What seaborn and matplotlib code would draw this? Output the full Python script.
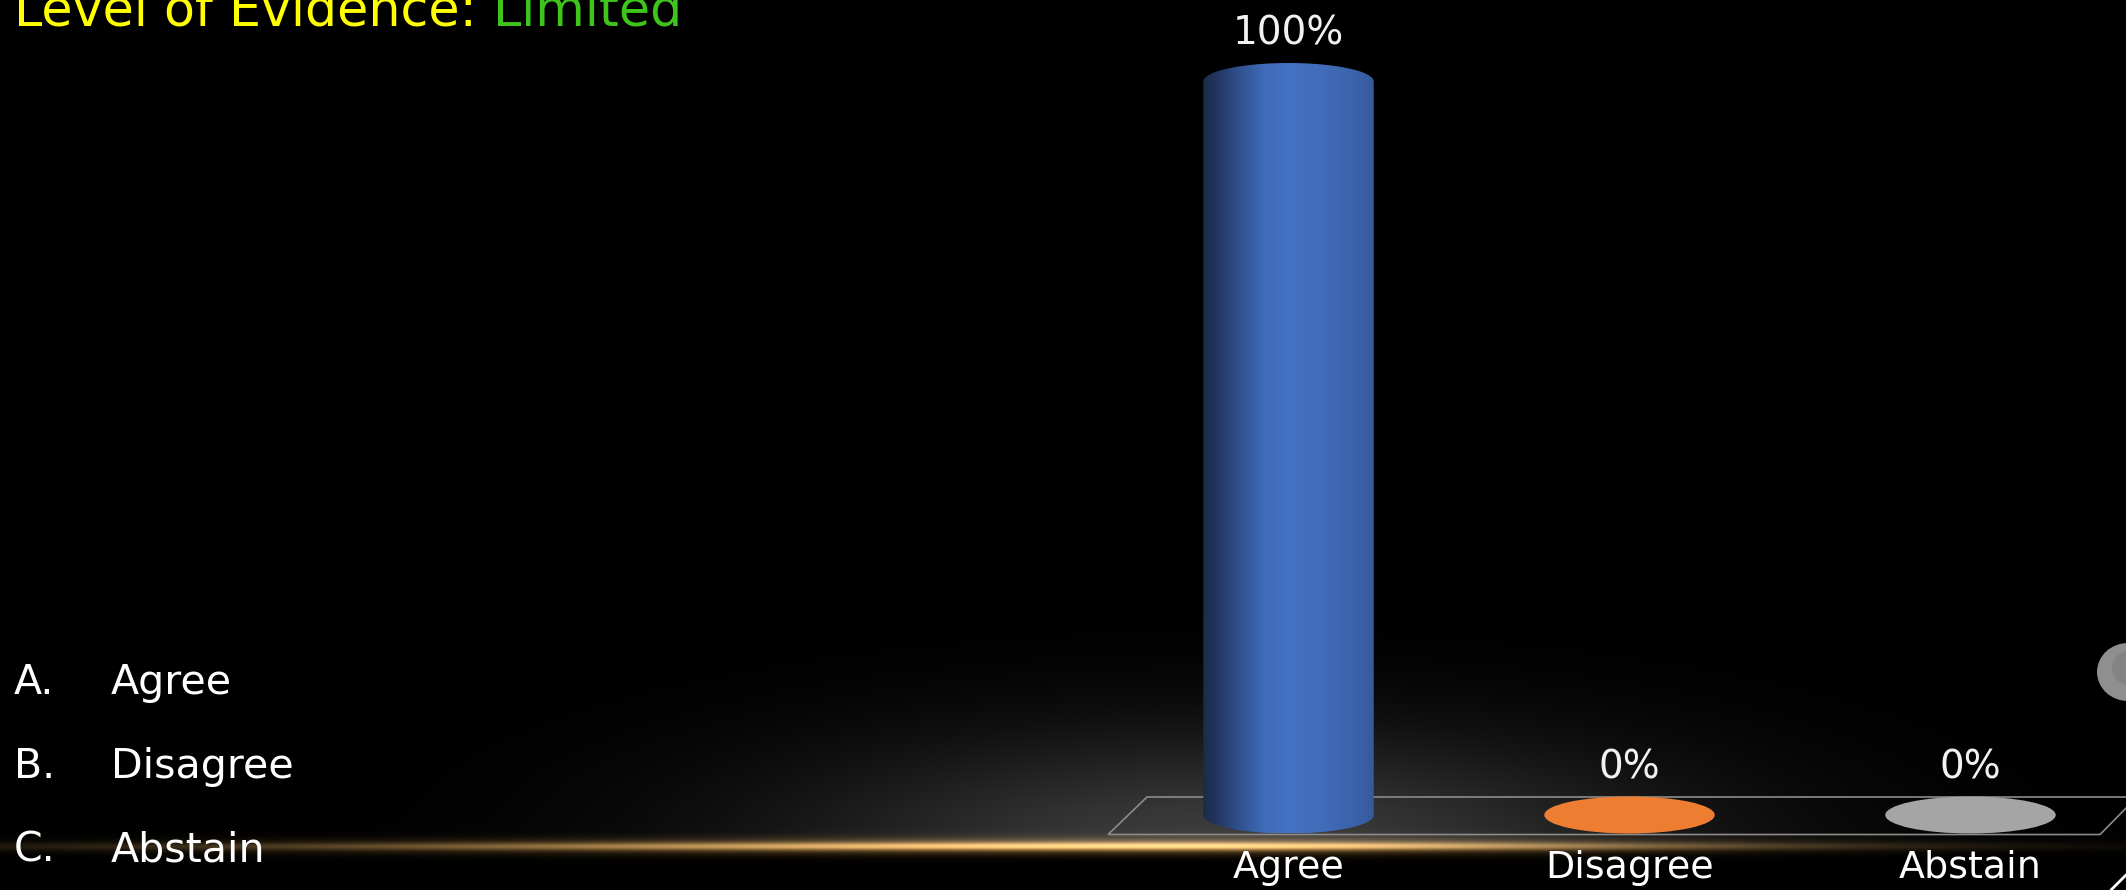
import numpy as np
import pandas as pd
import matplotlib
matplotlib.use("Agg")
import matplotlib.pyplot as plt
import seaborn as sns
from matplotlib.patches import Ellipse, Polygon, Rectangle
from matplotlib.colors import LinearSegmentedColormap

# ---------------- data ----------------
categories = ["Agree", "Disagree", "Abstain"]
values = [100, 0, 0]
value_labels = ["100%", "0%", "0%"]
bar_colors = ["#4472c4", "#ed7d31", "#a5a5a5"]
option_letters = ["A.", "B.", "C."]
option_texts = ["Agree", "Disagree", "Abstain"]
title_prefix = "Level of Evidence: "
title_level = "Limited"

# ---------------- layout ----------------
W, H, DPI = 2126, 890, 100
sns.set_theme(style="white")
plt.rcParams["font.family"] = ["DejaVu Sans"]

fig = plt.figure(figsize=(W / DPI, H / DPI), dpi=DPI, facecolor="black")

# ---- background decoration (glow + golden line), pixel coords, y down ----
bg = fig.add_axes([0, 0, 1, 1], zorder=0)
bg.set_xlim(0, W)
bg.set_ylim(H, 0)
bg.axis("off")
yy, xx = np.mgrid[0:H, 0:W]
yy = yy.astype(float)
xx = xx.astype(float)
LINE_Y = 846.0
glow = 0.24 * np.exp(-((xx - 1230) / 450.0) ** 2 - ((yy - LINE_Y) / 115.0) ** 2)
cut = LINE_Y - 4
glow = np.where(yy > cut, glow * np.exp(-((yy - cut) / 5.0) ** 2), glow)
sx = np.where(xx < 1150, 800.0, 560.0)
gx = np.exp(-((xx - 1150) / sx) ** 2)
core = gx * np.exp(-((yy - LINE_Y) / 3.6) ** 2)
halo = gx * np.exp(-((yy - LINE_Y) / 8.0) ** 2)
img = (glow[..., None] * np.array([1.0, 1.0, 1.0])
       + core[..., None] * np.array([0.58, 0.47, 0.30])
       + halo[..., None] * np.array([0.42, 0.30, 0.13]))
img = np.clip(img, 0, 1)
bg.imshow(img, extent=[0, W, H, 0], aspect="auto", interpolation="bilinear")
# small moon-like decoration at right edge and corner mark
bg.add_patch(Ellipse((2128, 672), 62, 58, facecolor="#b4b4b4", edgecolor="none", alpha=0.8))
bg.add_patch(Ellipse((2132, 668), 40, 36, facecolor="#7a7a7a", edgecolor="none", alpha=0.5))
bg.plot([2111, 2126], [890, 875], color="white", lw=2)

# ---- chart axes ----
X0_PX = 1100.0
CX0 = 1288.5      # pixel centre of first category
STEP = 341.0      # pixels per category
ZERO_PX = 815.0   # pixel row of value 0
PPU = 7.335       # pixels per value unit


def xd(px):
    return (px - CX0) / STEP


def yd(py):
    return (ZERO_PX - py) / PPU


ax = fig.add_axes([X0_PX / W, 0, 1 - X0_PX / W, 1], zorder=2)
ax.set_facecolor("none")
df = pd.DataFrame({"category": categories, "value": values})
sns.barplot(data=df, x="category", y="value", hue="category",
            palette=bar_colors, width=0.5, saturation=1, legend=False, ax=ax)
bars = sorted([p for p in ax.patches if isinstance(p, Rectangle)], key=lambda p: p.get_x())

EH = 37.0 / PPU  # ellipse height in value units
n = len(categories)

# floor parallelogram
floor = Polygon([(-0.529, -2.66), (-0.415, 2.454), (n - 0.512, 2.454), (n - 0.62, -2.66)],
                closed=True, fill=False, edgecolor="#8c8c8c", lw=1.2, zorder=1, clip_on=False)
ax.add_patch(floor)

cyl = LinearSegmentedColormap.from_list(
    "cyl", [(0.0, "#1c2b48"), (0.08, "#22365f"), (0.2, "#2f4f8c"), (0.35, "#3e6ab6"),
            (0.5, "#4472c4"), (0.7, "#416cb9"), (0.9, "#3b62a9"), (1.0, "#355a9c")])

for p, lab in zip(bars, value_labels):
    x, w, h = p.get_x(), p.get_width(), p.get_height()
    cx = x + w / 2
    col = p.get_facecolor()
    p.set_visible(False)
    if h > 0:
        t = np.linspace(np.pi, 0, 80)
        top = np.column_stack([cx + w / 2 * np.cos(t), h + EH / 2 * np.sin(t)])
        t2 = np.linspace(0, -np.pi, 80)
        bot = np.column_stack([cx + w / 2 * np.cos(t2), EH / 2 * np.sin(t2)])
        clip = Polygon(np.vstack([top, bot]), closed=True, facecolor="none",
                       edgecolor="none", transform=ax.transData)
        ax.add_patch(clip)
        grad = np.linspace(0, 1, 256)[None, :]
        im = ax.imshow(grad, cmap=cyl, extent=[x, x + w, -EH / 2, h + EH / 2],
                       aspect="auto", zorder=3, interpolation="bicubic")
        im.set_clip_path(clip)
    else:
        ax.add_patch(Ellipse((cx, 0), w, EH, facecolor=col, edgecolor="none", zorder=3))
    ax.text(cx, h + 5.0, lab, ha="center", va="baseline", color="#f2f2f2",
            fontsize=28, zorder=5)

for i, c in enumerate(categories):
    ax.text(i, yd(878), c, ha="center", va="baseline", color="white", fontsize=27.4, zorder=5)

ax.set_xlim(xd(X0_PX), xd(W))
ax.set_ylim(yd(H), yd(0))
ax.axis("off")

# ---- left option list ----
for i, (l, t) in enumerate(zip(option_letters, option_texts)):
    yb = 694 + i * 84
    fig.text(14 / W, 1 - yb / H, l, color="white", fontsize=29.6, va="baseline", ha="left")
    fig.text(111 / W, 1 - yb / H, t, color="white", fontsize=29.6, va="baseline", ha="left")

# ---- title (cut at top in the reference, two colours) ----
t1 = fig.text(14 / W, 1 - 26 / H, title_prefix, color="#ffff00", fontsize=36.5,
              va="baseline", ha="left")
fig.canvas.draw()
bb = t1.get_window_extent()
fig.text(bb.x1 / W, 1 - 26 / H, title_level, color="#3fc41c", fontsize=36.5,
         va="baseline", ha="left")

fig.savefig("out.png", dpi=DPI, facecolor="black")
